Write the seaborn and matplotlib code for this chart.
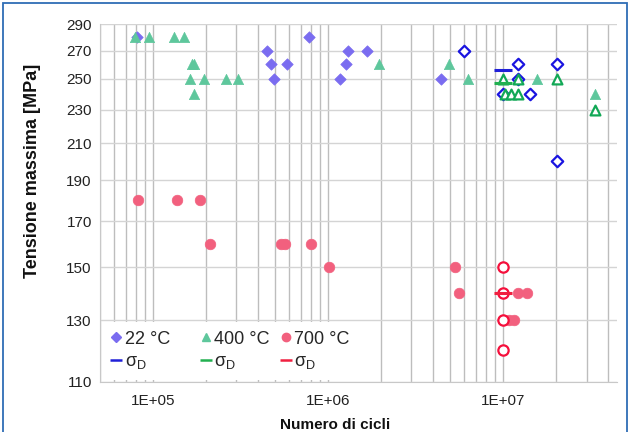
import numpy as np
import pandas as pd
import matplotlib
matplotlib.use("Agg")
import matplotlib.pyplot as plt
import seaborn as sns
from matplotlib.lines import Line2D
from matplotlib.patches import Rectangle
from matplotlib.ticker import FixedLocator, NullLocator, LogLocator, NullFormatter

# 22 °C - filled = failed, open = run-out
n22_f = [8.1e4, 4.5e5, 4.7e5, 5.85e5, 4.9e5, 7.8e5, 1.31e6, 1.67e6, 1.27e6, 1.17e6, 4.4e6]
s22_f = [280, 270, 260, 260, 250, 280, 270, 270, 260, 250, 250]
n22_o = [6.0e6, 1.22e7, 2.03e7, 1.22e7, 1.0e7, 1.42e7, 2.03e7]
s22_o = [270, 260, 260, 250, 240, 240, 200]

# 400 °C
n400_f = [7.9e4, 9.5e4, 1.32e5, 1.5e5, 1.68e5, 1.71e5, 1.62e5, 1.97e5, 2.6e5, 3.08e5,
          1.71e5, 1.95e6, 4.9e6, 6.3e6, 1.56e7, 3.33e7]
s400_f = [280, 280, 280, 280, 260, 260, 250, 250, 250, 250, 240, 260, 260, 250, 250, 240]
n400_o = [1.0e7, 1.22e7, 1.03e7, 1.11e7, 1.22e7, 2.03e7, 3.37e7]
s400_o = [250, 250, 240, 240, 240, 250, 230]

# 700 °C
n700_f = [8.2e4, 1.37e5, 1.87e5, 2.11e5, 5.4e5, 5.7e5, 8.0e5, 1.02e6, 5.3e6, 5.6e6,
          1.22e7, 1.37e7, 1.0e7, 1.08e7, 1.16e7]
s700_f = [180, 180, 180, 160, 160, 160, 160, 150, 150, 140, 140, 140, 130, 130, 130]
n700_o = [1.0e7, 1.0e7, 1.0e7, 1.0e7]
s700_o = [150, 140, 130, 120]

# fatigue limits sigma_D at 1E+07 cycles
n_d = 1.0e7
sigma_d = {"22": 256, "400": 247, "700": 140}

yticks = [110, 130, 150, 170, 190, 210, 230, 250, 270, 290]
xticks = [1e5, 1e6, 1e7]
xticklabels = ["1E+05", "1E+06", "1E+07"]

c22, c22o = "#7a6cf0", "#1a14e0"
c400, c400o = "#5ec79c", "#12a856"
c700, c700o = "#f2607e", "#f5103c"

sns.set_style("white")
plt.rcParams['font.family'] = ['Liberation Sans', 'DejaVu Sans']

fig = plt.figure(figsize=(6.3, 4.32), dpi=100)
ax = fig.add_axes([0.159, 0.116, 0.821, 0.828])

ax.set_xscale("log")
ax.set_yscale("log")

sns.scatterplot(x=n22_f, y=s22_f, marker="D", s=34, color=c22, edgecolor=c22, linewidth=0.5, ax=ax, zorder=3)
sns.scatterplot(x=n400_f, y=s400_f, marker="^", s=55, color=c400, edgecolor=c400, linewidth=0.5, ax=ax, zorder=3)
sns.scatterplot(x=n700_f, y=s700_f, marker="o", s=58, color=c700, edgecolor=c700, linewidth=0.5, ax=ax, zorder=3)
sns.scatterplot(x=n22_o, y=s22_o, marker="D", s=34, color="white", edgecolor=c22o, linewidth=1.6, ax=ax, zorder=4)
sns.scatterplot(x=n400_o, y=s400_o, marker="^", s=50, color="white", edgecolor=c400o, linewidth=1.6, ax=ax, zorder=4)
sns.scatterplot(x=n700_o, y=s700_o, marker="o", s=55, color="white", edgecolor=c700o, linewidth=1.6, ax=ax, zorder=4)

for key, col in [("22", "#2020d8"), ("400", "#22b050"), ("700", "#f02040")]:
    ax.plot([n_d], [sigma_d[key]], marker="_", markersize=13, mew=2.2, color=col, ls="none", zorder=5)

ax.set_xlim(5e4, 4.5e7)
ax.set_ylim(110, 290)

ax.yaxis.set_major_locator(FixedLocator(yticks))
ax.yaxis.set_minor_locator(NullLocator())
ax.set_yticklabels([str(v) for v in yticks])
ax.xaxis.set_major_locator(FixedLocator(xticks))
ax.set_xticklabels(xticklabels)
ax.xaxis.set_minor_locator(LogLocator(base=10, subs=np.arange(2, 10)))
ax.xaxis.set_minor_formatter(NullFormatter())
ax.tick_params(axis="both", which="both", length=0, labelsize=11, colors="#222222")
ax.tick_params(axis="x", pad=9)
ax.tick_params(axis="y", pad=6)

ax.grid(True, axis="y", which="major", color="#d4d4d4", lw=1.0)
ax.grid(True, axis="x", which="both", color="#bdbdbd", lw=1.0)
ax.set_axisbelow(True)
for sp in ax.spines.values():
    sp.set_color("#c8c8c8")
ax.spines["top"].set_visible(False)
ax.spines["right"].set_visible(False)

ax.set_ylabel("Tensione massima [MPa]", fontsize=13, fontweight="bold", color="#111111")
ax.yaxis.set_label_coords(-0.115, 0.59)
ax.set_xlabel("Numero di cicli", fontsize=11, fontweight="bold", color="#111111")
ax.xaxis.set_label_coords(0.455, -0.1)

sd = "σ$_{\\mathregular{D}}$"
handles = [
    Line2D([], [], marker="D", color=c22, ls="none", markersize=5),
    Line2D([], [], marker="_", color="#2020d8", ls="none", markersize=8, mew=1.8),
    Line2D([], [], marker="^", color=c400, ls="none", markersize=6),
    Line2D([], [], marker="_", color="#22b050", ls="none", markersize=8, mew=1.8),
    Line2D([], [], marker="o", color=c700, ls="none", markersize=6),
    Line2D([], [], marker="_", color="#f02040", ls="none", markersize=8, mew=1.8),
]
labels = ["22 °C    ", sd, "400 °C", sd, "700 °C    ", sd]
leg = ax.legend(handles, labels, ncol=3, loc="lower left", bbox_to_anchor=(0.0, 0.0),
                borderaxespad=0.1, frameon=True, fontsize=13, handlelength=0.6,
                handletextpad=0.15, columnspacing=0.6, labelspacing=0.3,
                borderpad=0.5)
leg.get_frame().set_facecolor("white")
leg.get_frame().set_edgecolor("none")
leg.get_frame().set_alpha(1)
leg.set_zorder(10)

fig.patches.append(Rectangle((0.005, -0.02), 0.99, 1.013, transform=fig.transFigure,
                             fill=False, edgecolor="#2f6db5", lw=1.3))

fig.savefig("out.png", dpi=100)
